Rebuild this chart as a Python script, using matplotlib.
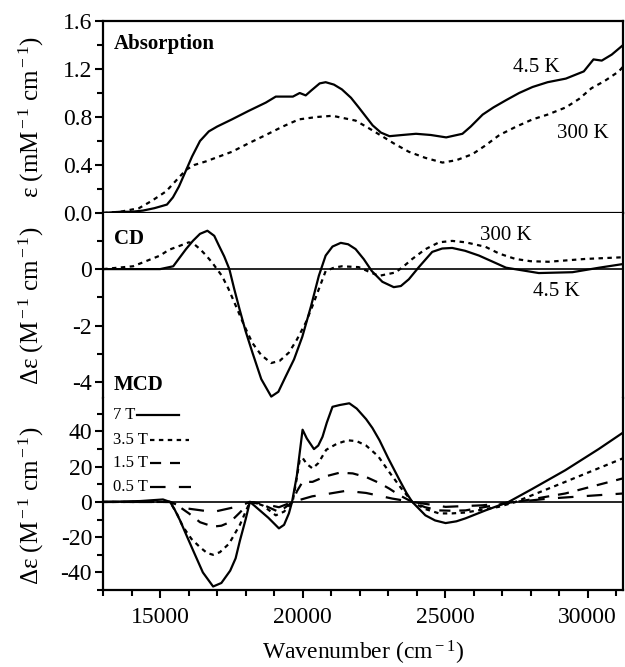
import numpy as np
import matplotlib
matplotlib.use("Agg")
from matplotlib import pyplot as plt
from matplotlib.ticker import MultipleLocator, FormatStrFormatter
from matplotlib.lines import Line2D
from matplotlib.transforms import blended_transform_factory

plt.rcParams['font.family'] = ['Liberation Serif', 'DejaVu Serif']
plt.rcParams['mathtext.fontset'] = 'custom'
plt.rcParams['mathtext.rm'] = 'Liberation Serif'
plt.rcParams['mathtext.it'] = 'Liberation Serif:italic'
plt.rcParams['axes.unicode_minus'] = False

# ---- Absorption (mM^-1 cm^-1) ----
abs_45_x = [13000, 13600, 14000, 14400, 14800, 15240, 15450, 15660, 15900, 16120, 16400, 16710,
            17000, 17520, 18100, 18710, 19060, 19660, 19900, 20110, 20300, 20600, 20810, 21100,
            21380, 21700, 21970, 22460, 22750, 23050, 23500, 23980, 24500, 25040, 25610, 25900,
            26320, 26700, 27140, 27600, 28070, 28600, 29240, 29870, 30210, 30500, 30850, 31250]
abs_45_y = [0.0, 0.01, 0.01, 0.02, 0.04, 0.07, 0.13, 0.22, 0.35, 0.47, 0.60, 0.68,
            0.72, 0.78, 0.85, 0.92, 0.97, 0.97, 1.0, 0.98, 1.02, 1.08, 1.09, 1.07,
            1.03, 0.96, 0.88, 0.73, 0.67, 0.64, 0.65, 0.66, 0.65, 0.63, 0.66, 0.72,
            0.82, 0.88, 0.94, 1.0, 1.05, 1.09, 1.12, 1.18, 1.28, 1.27, 1.32, 1.40]
abs_300_x = [13000, 13600, 14260, 14700, 15210, 15910, 16200, 16610, 17520, 18100, 18710, 19300,
             19870, 20500, 21050, 21860, 22300, 22790, 23200, 23730, 24300, 24910, 25400, 25960,
             26400, 26910, 27500, 28070, 28600, 29240, 29700, 30140, 30600, 31100, 31250]
abs_300_y = [0.0, 0.01, 0.04, 0.10, 0.18, 0.36, 0.40, 0.43, 0.51, 0.58, 0.65, 0.72,
             0.78, 0.80, 0.81, 0.77, 0.71, 0.64, 0.58, 0.51, 0.46, 0.42, 0.44, 0.49,
             0.56, 0.65, 0.72, 0.78, 0.82, 0.88, 0.95, 1.04, 1.10, 1.18, 1.22]

# ---- CD (M^-1 cm^-1) ----
cd_45_x = [13000, 15000, 15460, 15910, 16150, 16400, 16660, 16900, 17070, 17250, 17430, 17600,
           17790, 18000, 18240, 18550, 18900, 19150, 19410, 19700, 19990, 20300, 20570, 20810,
           21050, 21340, 21600, 21860, 22150, 22430, 22800, 23200, 23450, 23730, 24080, 24550,
           24900, 25250, 25700, 26190, 26700, 27140, 28290, 29470, 30410, 31250]
cd_45_y = [0.0, 0.0, 0.1, 0.71, 1.0, 1.25, 1.36, 1.18, 0.82, 0.45, 0.0, -0.7,
           -1.43, -2.2, -2.96, -3.9, -4.52, -4.35, -3.8, -3.2, -2.4, -1.3, -0.24, 0.48,
           0.8, 0.93, 0.88, 0.71, 0.35, -0.07, -0.45, -0.64, -0.6, -0.36, 0.07, 0.61,
           0.73, 0.75, 0.65, 0.48, 0.25, 0.05, -0.14, -0.11, 0.05, 0.18]
cd_300_x = [13000, 14050, 15000, 15300, 15700, 16010, 16200, 16400, 16600, 16820, 17170, 17400,
            17660, 17950, 18240, 18550, 18900, 19200, 19520, 19800, 20110, 20350, 20570, 20810,
            21100, 21380, 21970, 22300, 22680, 23260, 23550, 23850, 24300, 24790, 25250, 25720,
            26420, 26900, 27470, 28000, 28630, 29920, 31250]
cd_300_y = [0.0, 0.1, 0.48, 0.68, 0.83, 0.95, 0.88, 0.71, 0.5, 0.24, -0.24, -0.7,
            -1.31, -2.0, -2.62, -3.05, -3.33, -3.25, -2.96, -2.5, -1.9, -1.3, -0.71, -0.07,
            0.05, 0.1, 0.07, -0.08, -0.24, -0.12, 0.1, 0.36, 0.7, 0.95, 1.0, 0.95,
            0.79, 0.55, 0.36, 0.28, 0.26, 0.36, 0.42]

# ---- MCD (M^-1 cm^-1) ----
mcd_7_x = [13000, 14300, 15100, 15350, 15500, 15700, 15900, 16160, 16500, 16860, 17150, 17460,
           17650, 17800, 18000, 18150, 18300, 18500, 18800, 19170, 19350, 19520, 19630, 19800,
           20000, 20150, 20400, 20550, 20700, 20850, 21050, 21300, 21640, 21900, 22230, 22450,
           22700, 23000, 23400, 23650, 23850, 24310, 24650, 25020, 25400, 25720, 26420, 27230,
           28040, 29220, 30390, 31250]
mcd_7_y = [0, 0.5, 1.4, 0, -4, -10.5, -18, -27.6, -40, -48, -46, -39,
           -32, -22, -10, 0, -2, -4.8, -9, -15, -13, -6.5, 0, 15,
           41, 36, 30, 32, 37, 45, 54, 55, 56, 53, 47, 42,
           35, 25, 12.5, 5, 0, -7.6, -10.5, -12, -11, -9.3, -4.8, 0,
           7.2, 18, 30, 39.4]
mcd_35_x = [13000, 15350, 15600, 15800, 16100, 16400, 16650, 16860, 17100, 17420, 17800, 18150,
            18350, 18600, 19060, 19350, 19650, 19780, 19900, 20000, 20150, 20350, 20550, 20830,
            21200, 21580, 21900, 22230, 22650, 23040, 23450, 23850, 24300, 24790, 25250, 25720,
            26880, 27470, 29220, 31250]
mcd_35_y = [0, 0, -7, -14, -21, -25.7, -29, -30, -28.5, -23.7, -13, 0,
            -0.5, -2, -7.6, -5.5, 0, 12, 24, 25, 21.5, 19, 22, 29.6,
            33, 35, 34.5, 32, 26, 17, 8, 0, -4, -6.5, -6.5, -6,
            -2.8, 0, 11.4, 24.8]
mcd_15_x = [13000, 15350, 15700, 16010, 16400, 16860, 17150, 17460, 17800, 18150, 18600, 19170,
            19400, 19650, 19800, 20000, 20350, 20800, 21300, 21760, 22250, 22700, 23050, 23400,
            23850, 24300, 24790, 25250, 25720, 26880, 27500, 29220, 31250]
mcd_15_y = [0, 0, -3, -6.5, -11.5, -14, -13.5, -11.4, -6, 0, -1.5, -5.7,
            -3, 0, 6, 11.4, 11.4, 14.5, 16.6, 16.2, 14, 10.7, 7.5, 3.8,
            0, -3, -4.8, -5, -4.8, -1.5, 0, 4.8, 13.4]
mcd_05_x = [13000, 15350, 15900, 16860, 17800, 18150, 18600, 19170, 19650, 20340, 20600, 21520,
            22230, 23150, 23850, 25020, 26320, 27500, 28640, 31250]
mcd_05_y = [0, 0, -3.6, -5.7, -2.3, 0, -1, -3, 0, 3.2, 3.8, 6.3,
            5.1, 1.9, 0, -2.8, -1.9, 0, 1.9, 4.8]

mcd_fields = ["7 T", "3.5 T", "1.5 T", "0.5 T"]

dot = (0, (2, 2))
dash15 = (0, (5, 4))
dash05 = (0, (7, 6))
lw = 1.6
fs = 17

fig = plt.figure(figsize=(6.25, 6.67), dpi=100)
L, R = 0.165, 0.997
ax1 = fig.add_axes([L, 0.6807, R - L, 0.9685 - 0.6807])
ax2 = fig.add_axes([L, 0.4033, R - L, 0.6807 - 0.4033])
ax3 = fig.add_axes([L, 0.1154, R - L, 0.4033 - 0.1154])

for ax in (ax1, ax2, ax3):
    ax.set_xlim(13000, 31250)
    for s in ax.spines.values():
        s.set_linewidth(1.6)
    ax.tick_params(axis='both', which='major', direction='out', length=6, width=1.5, labelsize=fs,
                   right=False, top=False, pad=2)
    ax.tick_params(axis='both', which='minor', direction='out', length=4, width=1.5,
                   right=False, top=False)
    ax.xaxis.set_major_locator(MultipleLocator(5000))
    ax.xaxis.set_minor_locator(MultipleLocator(1000))

# absorption
ax1.plot(abs_45_x, abs_45_y, color='black', lw=lw)
ax1.plot(abs_300_x, abs_300_y, color='black', lw=lw, linestyle=dot)
ax1.set_ylim(0, 1.6)
ax1.yaxis.set_major_locator(MultipleLocator(0.4))
ax1.yaxis.set_minor_locator(MultipleLocator(0.2))
ax1.yaxis.set_major_formatter(FormatStrFormatter('%.1f'))
ax1.tick_params(axis='x', which='both', bottom=False, labelbottom=False)
ax1.set_ylabel(r"ε (mM$^{\rm -1}$ cm$^{\rm -1}$)", fontsize=18)
ax1.yaxis.set_label_coords(-0.11, 0.5)
ax1.text(0.02, 0.93, "Absorption", transform=ax1.transAxes, fontsize=15, fontweight='bold',
         va='top', ha='left')
ax1.text(28210, 1.21, "4.5 K", fontsize=15, ha='center', va='center')
ax1.text(29820, 0.66, "300 K", fontsize=15, ha='center', va='center')

# CD
ax2.plot(cd_45_x, cd_45_y, color='black', lw=lw)
ax2.plot(cd_300_x, cd_300_y, color='black', lw=lw, linestyle=dot)
ax2.axhline(0, color='black', lw=1.2)
ax2.set_ylim(-4.57, 1.99)
ax2.yaxis.set_major_locator(MultipleLocator(2))
ax2.yaxis.set_minor_locator(MultipleLocator(1))
ax2.spines['bottom'].set_visible(False)
ax2.spines['top'].set_visible(False)
ax2.tick_params(axis='x', which='both', bottom=False, labelbottom=False)
ax2.set_ylabel(r"Δε (M$^{\rm -1}$ cm$^{\rm -1}$)", fontsize=18)
ax2.yaxis.set_label_coords(-0.11, 0.5)
ax2.text(0.02, 0.86, "CD", transform=ax2.transAxes, fontsize=15, fontweight='bold',
         va='center', ha='left')
ax2.text(27120, 1.18, "300 K", fontsize=15, ha='center', va='center')
ax2.text(28910, -0.79, "4.5 K", fontsize=15, ha='center', va='center')

# MCD
styles = ['-', dot, dash15, dash05]
series = [(mcd_7_x, mcd_7_y), (mcd_35_x, mcd_35_y), (mcd_15_x, mcd_15_y), (mcd_05_x, mcd_05_y)]
for (xs, ys), st in zip(series, styles):
    ax3.plot(xs, ys, color='black', lw=lw, linestyle=st)
ax3.axhline(0, color='black', lw=1.2)
ax3.set_ylim(-50, 59)
ax3.yaxis.set_major_locator(MultipleLocator(20))
ax3.yaxis.set_minor_locator(MultipleLocator(10))
ax3.spines['top'].set_visible(False)
ax3.set_ylabel(r"Δε (M$^{\rm -1}$ cm$^{\rm -1}$)", fontsize=18)
ax3.yaxis.set_label_coords(-0.11, 0.44)
ax3.tick_params(axis='x', which='major', pad=6)
ax3.set_xlabel(r"Wavenumber (cm$^{\rm -1}$)", fontsize=fs, labelpad=8)
ax3.text(0.02, 1.07, "MCD", transform=ax3.transAxes, fontsize=15, fontweight='bold',
         va='center', ha='left')

# key: label text, then the line sample right after it
fig.canvas.draw()
renderer = fig.canvas.get_renderer()
inv = ax3.transAxes.inverted()
key_rows = [0.911, 0.781, 0.661, 0.536]
sample_len = [0.080, 0.075, 0.058, 0.078]
for lab, st, yy, ln in zip(mcd_fields, styles, key_rows, sample_len):
    t = ax3.text(0.019, yy, lab, transform=ax3.transAxes, fontsize=12, ha='left', va='center')
    bb = t.get_window_extent(renderer)
    x_end = inv.transform((bb.x1, bb.y0))[0] + 0.004
    ax3.add_line(Line2D([x_end, x_end + ln], [yy, yy], transform=ax3.transAxes,
                        color='black', lw=lw, linestyle=st))

fig.savefig("out.png", dpi=100)
